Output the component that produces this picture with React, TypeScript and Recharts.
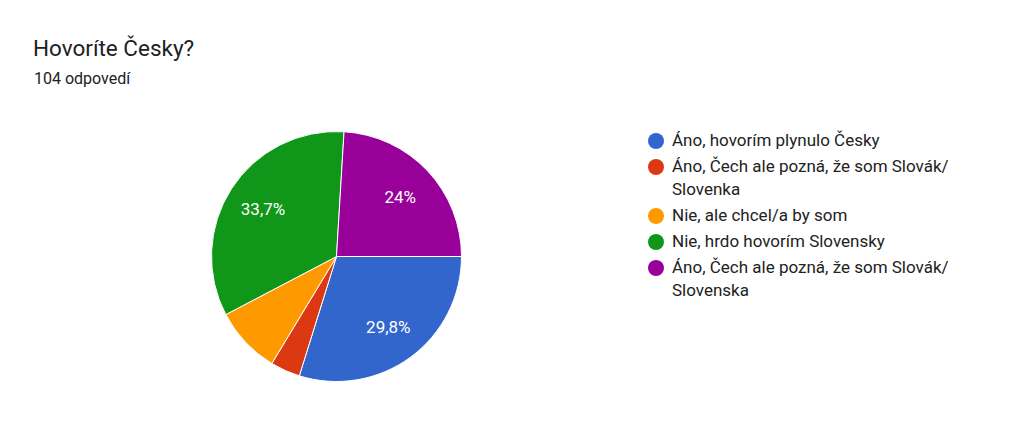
import React from "react";
import { PieChart, Pie, Cell, Legend } from "recharts";

const title = "Hovoríte Česky?";
const subtitle = "104 odpovedí";
const categories = [
  "Áno, hovorím plynulo Česky",
  "Áno, Čech ale pozná, že som Slovák/Slovenka",
  "Nie, ale chcel/a by som",
  "Nie, hrdo hovorím Slovensky",
  "Áno, Čech ale pozná, že som Slovák/Slovenska",
];
const counts = [31, 4, 9, 35, 25];
const colors = ["#3366cc", "#dc3912", "#ff9900", "#109618", "#990099"];

const data = categories.map((name, i) => ({ name, value: counts[i] }));

const RAD = Math.PI / 180;
const FONT = "Roboto, 'Noto Sans', sans-serif";

function fmtPct(p: number) {
  const s = (p * 100).toFixed(1).replace(/\.0$/, "");
  return s.replace(".", ",") + "%";
}

const renderLabel = (props: any) => {
  const { cx, cy, midAngle, outerRadius, percent } = props;
  if (percent < 0.1) return null;
  const r = outerRadius * 0.7;
  const x = cx + r * Math.cos(-midAngle * RAD);
  const y = cy + r * Math.sin(-midAngle * RAD);
  return (
    <text
      x={x}
      y={y}
      fill="#ffffff"
      textAnchor="middle"
      dominantBaseline="central"
      style={{ fontFamily: FONT, fontSize: 17 }}
    >
      {fmtPct(percent)}
    </text>
  );
};

const LegendContent = () => {
  return (
    <div style={{ fontFamily: FONT, fontSize: 17, color: "#222222" }}>
      {categories.map((name, i) => (
        <div
          key={i}
          style={{ display: "flex", alignItems: "flex-start", marginBottom: 3, lineHeight: "23px" }}
        >
          <span
            style={{
              display: "inline-block",
              width: 16,
              height: 16,
              borderRadius: 8,
              background: colors[i],
              marginTop: 3.5,
              marginRight: 8,
              flexShrink: 0,
            }}
          />
          <span style={{ whiteSpace: "pre-line" }}>{name.replace("Slovák/", "Slovák/\n")}</span>
        </div>
      ))}
    </div>
  );
};

export default function App() {
  return (
    <div
      style={{
        position: "absolute",
        left: 0,
        top: 0,
        width: 1024,
        height: 430,
        background: "#ffffff",
        overflow: "hidden",
      }}
    >
      <div
        style={{
          position: "absolute",
          left: 33,
          top: 37,
          fontFamily: FONT,
          fontSize: 22.5,
          lineHeight: "22.5px",
          color: "#202124",
          whiteSpace: "nowrap",
        }}
      >
        {title}
      </div>
      <div
        style={{
          position: "absolute",
          left: 34,
          top: 70.5,
          fontFamily: FONT,
          fontSize: 16,
          lineHeight: "16px",
          color: "#202124",
          whiteSpace: "nowrap",
        }}
      >
        {subtitle}
      </div>
      <PieChart width={1024} height={430} margin={{ top: 0, right: 0, bottom: 0, left: 0 }}>
        <Pie
          data={data}
          dataKey="value"
          nameKey="name"
          cx={336.5}
          cy={256.5}
          outerRadius={125}
          startAngle={0}
          endAngle={-360}
          stroke="#ffffff"
          strokeWidth={1}
          label={renderLabel}
          labelLine={false}
          isAnimationActive={false}
        >
          {data.map((d, i) => (
            <Cell key={d.name} fill={colors[i]} />
          ))}
        </Pie>
        <Legend
          layout="vertical"
          align="right"
          verticalAlign="top"
          content={<LegendContent />}
          wrapperStyle={{ left: 648, top: 129, right: "auto", width: 360 }}
        />
      </PieChart>
    </div>
  );
}
